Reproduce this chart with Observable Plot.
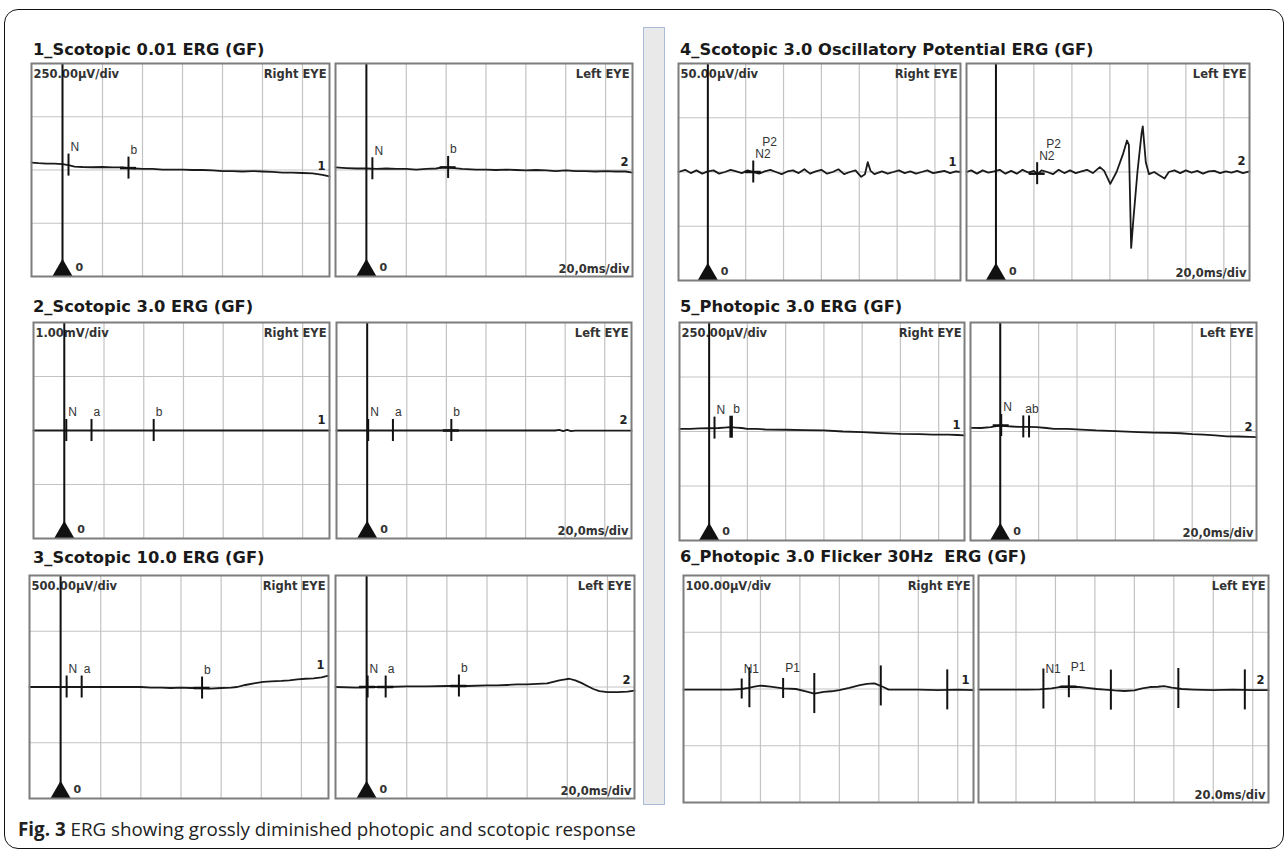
<!DOCTYPE html>
<html><head><meta charset="utf-8">
<script src="https://cdn.jsdelivr.net/npm/d3@7"></script>
<script src="https://cdn.jsdelivr.net/npm/@observablehq/plot@0.6"></script>
<style>
html,body{margin:0;padding:0;background:#fff;}
#root{position:relative;width:1288px;height:850px;overflow:hidden;background:#fff;}
.frame{position:absolute;left:4px;top:9px;width:1280px;height:840px;border:1.5px solid #111;border-radius:14px;box-sizing:border-box;}
.sep{position:absolute;left:643px;top:27px;width:22px;height:778px;background:#e9e9e9;border:1.5px solid #a8bcd9;box-sizing:border-box;}
.title{position:absolute;font-family:"DejaVu Sans";font-weight:bold;font-size:16.3px;color:#1a1a1a;white-space:pre;line-height:16px;}
.cap{position:absolute;left:18px;top:817px;font-family:"Open Sans";font-size:18.8px;color:#222;white-space:nowrap;line-height:24px;}
.cap b{font-weight:700;}
.panel{position:absolute;}
</style></head><body><div id="root"><div class="frame"></div><div class="sep"></div></div>
<script>
// ---------- labels ----------
const titles = ["1_Scotopic 0.01 ERG (GF)", "2_Scotopic 3.0 ERG (GF)", "3_Scotopic 10.0 ERG (GF)",
  "4_Scotopic 3.0 Oscillatory Potential ERG (GF)", "5_Photopic 3.0 ERG (GF)", "6_Photopic 3.0 Flicker 30Hz  ERG (GF)"];
const scaleLabels = ["250.00µV/div", "1.00mV/div", "500.00µV/div", "50.00µV/div", "250.00µV/div", "100.00µV/div"];
const uVperDiv = [250, 1000, 500, 50, 250, 100];
const timeLabels = ["20,0ms/div", "20,0ms/div", "20,0ms/div", "20,0ms/div", "20,0ms/div", "20.0ms/div"];
const eyeLabels = ["Right EYE", "Left EYE"];
const traceNumbers = ["1", "2"];
const gridTimes = [0, 20, 40, 60, 80, 100, 120];
const hasCursor = [true, true, true, true, true, false];

// ---------- traces (time ms, amplitude µV) ----------
const p1R_t = [-15.5,-12,-8,-4,0,3,6,10,15,20,25,30,33,36,40,45,50,55,60,65,70,75,80,85,90,95,100,105,110,115,120,125,130,133.5];
const p1R_v = [35,32,30,30,28,23,16,14,13,14,12,12,9,7,5,5,2,2,2,0,0,-2,-5,-5,-7,-5,-7,-9,-12,-12,-14,-16,-23,-30];
const p1L_t = [-15.5,-10,-5,0,5,10,15,20,25,30,35,38,41,44,48,55,60,65,70,75,80,85,90,95,100,105,110,115,120,125,130,133.5];
const p1L_v = [12,9,7,7,5,7,5,5,2,5,7,12,12,9,5,2,2,0,2,0,-2,0,-2,-5,-2,-5,-5,-7,-5,-7,-7,-12];

const p2R_t = [-15.5,20,60,100,133.5];
const p2R_v = [0,0,0,0,0];
const p2L_t = [-15.5,95,97,99,101,103,105,133.5];
const p2L_v = [0,0,12,-12,12,-10,-4,-4];

const p3R_t = [-15.5,-5,0,10,20,30,40,45,50,55,60,65,70,75,80,85,88,92,97,101,105,110,114,118,122,126,130,133.5];
const p3R_v = [0,0,0,0,0,0,0,-5,-5,-9,-5,-9,-9,-14,-9,-5,0,18,34,46,51,55,60,69,74,78,87,101];
const p3L_t = [-15.5,-5,0,5,10,20,30,40,50,60,65,70,75,80,85,90,93,96,99,101,104,107,110,113,116,120,125,130,133.5];
const p3L_v = [0,-5,0,0,0,5,5,9,9,14,14,18,23,23,28,32,46,60,69,74,60,37,9,-18,-37,-46,-46,-41,-32];

const p4R_t = [-15.5,-12,-9,-6,-3,0,3,6,9,12,15,18,21,24,27,30,33,36,39,42,45,48,51,54,57,60,63,66,69,72,75,78,81,83,84.5,86,88,92,95,98,101,104,107,110,113,116,119,122,125,128,131,133.5];
const p4R_v = [0,2,-1,1.5,-1.5,0.5,1.5,-1.5,0,2,0.5,-1,1.5,0,-1.5,0.5,2,0,-2,0.5,1.5,-1,2.5,-1.5,0.5,2,-1.5,0,2.5,-2,0,1.5,-4.5,-2,9,1,-2,0.5,-1.5,0,1.5,-1,0.5,-1.5,0,1.5,-1,0,1,-1,0.5,0];
const p4L_t = [-15.5,-13,-10,-7,-4,-1,2,5,8,11,14,17,20,22,24,27,30,33,36,39,42,45,48,51,54.7,57,60.2,63.5,66.8,69,70,71.2,72.3,74.5,76.7,77.3,78.9,80.6,83.3,86,88.8,91,94,97,100,103,106,109,112,115,118,121,124,127,130,133.5];
const p4L_v = [0,1.5,-1.5,1.5,-0.5,0.5,2,-1.5,1,-1.5,2,-0.5,1,-2,1.5,0,-2,2,-1,1.5,-1,0.5,2,-1,4.5,1,-11,0,16,29,25,-70,-45,0,36,42,9,-2,0,-3,-6,0,1.5,-1,1.5,-0.5,1,-1.5,0.5,1,-1,0.5,-0.5,1,-1,0.5];

const p5R_t = [-15.5,-10,-5,0,5,8,11,14,17,20,25,30,40,50,60,70,80,90,100,110,117,125,130,133.5];
const p5R_v = [12,12,14,15,16,18,20,18,16,12,12,9,8,6,5,0,-3,-7,-11,-12,-14,-14,-16,-18];
const p5L_t = [-15.5,-10,-5,0,3,6,10,15,19,24,28,35,42,50,60,72,80,88,94,100,106,112,118,124,130,133.5];
const p5L_v = [17,16,20,28,25,23,21,21,20,16,12,12,9,5,2,-3,-5,-6,-8,-12,-14,-18,-22,-23,-25,-26];

const p6R_t = [-19,-10,0,5,10.5,14,17,20,25,31.5,38,43,47.3,52,56,60,65,70.4,74,77.8,82,85,90,100,110,120,128];
const p6R_v = [-1,-1,-1,-1,0,2,4,6,4,1,0,-4,-8,-5,-4,-2,2,7,9,10,4,-1,-1,-1,-2,-1,-2];
const p6L_t = [-19,-10,0,6,12,18,22,27,32,36,41,45,50,55,60,64,68,72,75,79,84,90,100,110,120,128];
const p6L_v = [-1,-1,-1,-1,-0.5,1,3.5,4,3.5,2,0,-1,-2.5,-3.5,-2.5,1,3.5,4,5,2.5,0,-1,-2,-1,-2,-2];

// ---------- markers (time ms, label, kind) ----------
const p1R_mt = [3, 33], p1R_ml = ["N", "b"], p1R_mk = ["tick", "cross"];
const p1L_mt = [3, 41], p1L_ml = ["N", "b"], p1L_mk = ["tick", "cross"];
const p2R_mt = [1, 13.7, 45], p2R_ml = ["N", "a", "b"], p2R_mk = ["tick", "tick", "tick"];
const p2L_mt = [0.5, 13, 42.5], p2L_ml = ["N", "a", "b"], p2L_mk = ["tick", "tick", "cross"];
const p3R_mt = [3, 10.5, 70.5], p3R_ml = ["N", "a", "b"], p3R_mk = ["tick", "tick", "cross"];
const p3L_mt = [0.5, 9.5, 46], p3L_ml = ["N", "a", "b"], p3L_mk = ["cross", "cross", "cross"];
const p4R_mt = [24, 24], p4R_ml = ["N2", "P2"], p4R_mk = ["cross", "label"];
const p4L_mt = [21.7, 21.7], p4L_ml = ["N2", "P2"], p4L_mk = ["cross", "label"];
const p5R_mt = [2.8, 11.5], p5R_ml = ["N", "b"], p5R_mk = ["tick", "thick"];
const p5L_mt = [0.5, 12, 15], p5L_ml = ["N", "ab", ""], p5L_mk = ["cross", "tick", "tick"];
const p6R_mt = [10.5, 14.4, 31.5, 47.3, 81, 114.7], p6R_ml = ["N1", "", "P1", "", "", ""], p6R_mk = ["short", "tall", "short", "tall", "tall", "tall"];
const p6L_mt = [13.9, 26.8, 48.1, 82.3, 116], p6L_ml = ["N1", "P1", "", "", ""], p6L_mk = ["tall", "cross", "tall", "tall", "tall"];

const traces = [
  [[p1R_t, p1R_v, p1R_mt, p1R_ml, p1R_mk], [p1L_t, p1L_v, p1L_mt, p1L_ml, p1L_mk]],
  [[p2R_t, p2R_v, p2R_mt, p2R_ml, p2R_mk], [p2L_t, p2L_v, p2L_mt, p2L_ml, p2L_mk]],
  [[p3R_t, p3R_v, p3R_mt, p3R_ml, p3R_mk], [p3L_t, p3L_v, p3L_mt, p3L_ml, p3L_mk]],
  [[p4R_t, p4R_v, p4R_mt, p4R_ml, p4R_mk], [p4L_t, p4L_v, p4L_mt, p4L_ml, p4L_mk]],
  [[p5R_t, p5R_v, p5R_mt, p5R_ml, p5R_mk], [p5L_t, p5L_v, p5L_mt, p5L_ml, p5L_mk]],
  [[p6R_t, p6R_v, p6R_mt, p6R_ml, p6R_mk], [p6L_t, p6L_v, p6L_mt, p6L_ml, p6L_mk]]
];

// ---------- layout (pixels) ----------
const layout = [
  {top: 63, bottom: 276, R: [31, 329], L: [335, 632], tx: 33, ty: 50, xdom: [-15.5, 133.5]},
  {top: 322, bottom: 538, R: [33, 329], L: [336, 631], tx: 33, ty: 307, xdom: [-15.5, 133.5]},
  {top: 575, bottom: 798, R: [29, 328], L: [335, 634], tx: 33, ty: 558, xdom: [-15.5, 133.5]},
  {top: 63, bottom: 280, R: [678, 960], L: [966, 1249], tx: 680, ty: 50, xdom: [-15.5, 133.5]},
  {top: 322, bottom: 540, R: [679, 964], L: [970, 1256], tx: 680, ty: 307, xdom: [-15.5, 133.5]},
  {top: 575, bottom: 802, R: [683, 973], L: [978, 1268], tx: 680, ty: 557, xdom: [-19, 128]}
];

const root = document.getElementById("root");
const labelFont = "DejaVu Sans";
const markFont = "Liberation Sans";

function valueAt(T, V, t) {
  const i = d3.bisectRight(T, t);
  if (i <= 0) return V[0];
  if (i >= T.length) return V[V.length - 1];
  return V[i - 1] + (V[i] - V[i - 1]) * (t - T[i - 1]) / (T[i] - T[i - 1]);
}

function makePanel(row, eye) {
  const L = layout[row];
  const [T, V, MT, ML, MK] = traces[row][eye];
  const d = uVperDiv[row];
  const [x0, x1] = eye === 0 ? L.R : L.L;
  const w = x1 - x0, h = L.bottom - L.top;
  const m = 2;
  const uy = 4 * d / h;                       // µV per pixel
  const ux = (L.xdom[1] - L.xdom[0]) / w;     // ms per pixel
  const data = T.map((t, i) => ({t, v: V[i]}));
  const marks = MT.map((t, i) => ({t, y: valueAt(T, V, t), label: ML[i], kind: MK[i]}));
  const half = {tick: 11, thick: 11, short: 10, tall: 20, cross: 11, label: 0};
  const ticks = marks.filter(k => k.kind !== "label");
  const crosses = marks.filter(k => k.kind === "cross");
  const labsMain = marks.filter(k => k.label && k.kind !== "label");
  const labsAlt = marks.filter(k => k.label && k.kind === "label");
  const last = data[data.length - 1];
  const ymin = -2 * d;
  const labDy = row === 5 ? -20 : -18;

  const chart = Plot.plot({
    width: w + 2 * m, height: h + 2 * m, margin: m,
    x: {domain: L.xdom, axis: null},
    y: {domain: [-2 * d, 2 * d], axis: null},
    style: {background: "transparent", overflow: "visible"},
    marks: [
      Plot.ruleX(gridTimes, {stroke: "#c3c3c3", strokeWidth: 1.2}),
      Plot.ruleY([-d, 0, d], {stroke: "#c3c3c3", strokeWidth: 1.2}),
      eye === 0 ? Plot.text([scaleLabels[row]], {frameAnchor: "top-left", text: d => d, dx: 2, dy: 6, fontFamily: labelFont, fontWeight: "bold", fontSize: 11.5, fill: "#333", lineAnchor: "top"}) : null,
      Plot.text([eyeLabels[eye]], {frameAnchor: "top-right", text: d => d, dx: -3, dy: 6, fontFamily: labelFont, fontWeight: "bold", fontSize: 11.5, fill: "#333", lineAnchor: "top"}),
      eye === 1 ? Plot.text([timeLabels[row]], {frameAnchor: "bottom-right", text: d => d, dx: -3, dy: -4, fontFamily: labelFont, fontWeight: "bold", fontSize: 11.5, fill: "#333", lineAnchor: "bottom"}) : null,
      Plot.line(data, {x: "t", y: "v", stroke: "#1a1a1a", strokeWidth: 1.8}),
      Plot.ruleX(ticks, {x: "t", y1: k => k.y - half[k.kind] * uy, y2: k => k.y + half[k.kind] * uy, stroke: "#111", strokeWidth: k => k.kind === "thick" ? 3.5 : 2}),
      Plot.ruleY(crosses, {y: "y", x1: k => k.t - 8 * ux, x2: k => k.t + 8 * ux, stroke: "#111", strokeWidth: 2.5}),
      Plot.text(labsMain, {x: "t", y: "y", text: "label", textAnchor: "start", dx: 2, dy: labDy,
        fontFamily: markFont, fontSize: 12, fill: "#333"}),
      Plot.text(labsAlt, {x: "t", y: "y", text: "label", textAnchor: "start", dx: 9, dy: -30,
        fontFamily: markFont, fontSize: 12, fill: "#333"}),
      hasCursor[row] ? Plot.ruleX([0], {stroke: "#111", strokeWidth: 2}) : null,
      hasCursor[row] ? Plot.dot([0], {x: d => d, y: () => ymin, symbol: "triangle", r: 7.5, fill: "#111", stroke: "none", dy: -6}) : null,
      hasCursor[row] ? Plot.text(["0"], {x: () => 0, y: () => ymin, text: d => d, dx: 13, dy: -9, textAnchor: "start", fontFamily: labelFont, fontWeight: "bold", fontSize: 11, fill: "#333"}) : null,
      Plot.text([last], {x: "t", y: "v", text: () => traceNumbers[eye], dx: -4, dy: -10, textAnchor: "end", fontFamily: labelFont, fontWeight: "bold", fontSize: 11.5, fill: "#222"}),
      Plot.frame({stroke: "#7d7d7d", strokeWidth: 2})
    ]
  });
  const div = document.createElement("div");
  div.className = "panel";
  div.style.left = (x0 - m) + "px";
  div.style.top = (L.top - m) + "px";
  div.appendChild(chart);
  root.appendChild(div);
}

layout.forEach((L, row) => {
  const t = document.createElement("div");
  t.className = "title";
  t.textContent = titles[row];
  t.style.left = L.tx + "px";
  t.style.top = (L.ty - 8) + "px";
  root.appendChild(t);
  makePanel(row, 0);
  makePanel(row, 1);
});

const cap = document.createElement("div");
cap.className = "cap";
cap.innerHTML = "<b>Fig. 3</b> ERG showing grossly diminished photopic and scotopic response";
root.appendChild(cap);
</script>
</body></html>
